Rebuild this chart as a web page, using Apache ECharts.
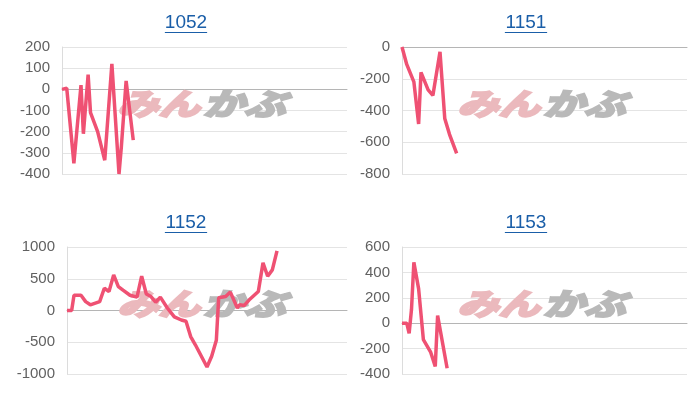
<!DOCTYPE html>
<html>
<head>
<meta charset="utf-8">
<script src="https://cdn.jsdelivr.net/npm/echarts@6/dist/echarts.min.js"></script>
<style>
  html, body { margin: 0; padding: 0; background: #fff; }
  #chart { width: 700px; height: 400px; }
</style>
</head>
<body>
<div id="chart"></div>
<script>
// data (x = day number, y = value)
const titles = ['1052', '1151', '1152', '1153']

const days1052 = [0, 2, 5, 8, 9, 11, 12, 15, 18, 21, 24, 25, 27, 30]
const vals1052 = [0, 5, -350, 20, -210, 70, -110, -200, -335, 120, -400, -270, 40, -240]

const days1151 = [0, 2, 5, 7, 8, 11, 13, 16, 18, 20, 23]
const vals1151 = [0, -110, -220, -485, -160, -270, -305, -30, -450, -550, -670]

const days1152 = [0, 2, 3, 6, 8, 10, 14, 16, 18, 20, 22, 24, 27, 30, 32, 34, 36, 38, 40, 43, 46, 49, 51, 53, 55, 60, 62, 64, 65, 68, 70, 73, 74, 76, 78, 82, 84, 86, 88, 90]
const vals1152 = [0, 0, 240, 240, 140, 90, 140, 350, 300, 560, 375, 320, 240, 210, 540, 260, 220, 130, 210, 40, -100, -150, -170, -410, -540, -890, -720, -470, 200, 220, 290, 40, 90, 80, 165, 300, 750, 540, 640, 940]

const days1153 = [0, 2, 3, 4, 5, 7, 9, 12, 14, 15, 19]
const vals1153 = [0, 0, -80, 110, 480, 270, -130, -225, -340, 60, -355]

// y axis ranges (tick labels)
const yMin = [-400, -800, -1000, -400]
const yMax = [200, 0, 1000, 600]
const yStep = [100, 200, 500, 200]

const allDays = [days1052, days1151, days1152, days1153]
const allVals = [vals1052, vals1151, vals1152, vals1153]

// layout of the 4 panels
const boxes = [
  { left: 62, top: 47, width: 285, height: 127 },
  { left: 402, top: 47, width: 285, height: 127 },
  { left: 67, top: 247, width: 280, height: 127 },
  { left: 402, top: 247, width: 285, height: 127 }
]
const titleX = [186, 526, 186, 526]
const titleY = [23, 23, 223, 223]
const markX = [201.5, 541.5, 201.5, 541.5]
const markY = [104, 104, 304, 304]

const lineColor = '#ef5173'
const labelFont = 'Liberation Sans, Arial, sans-serif'
const logoFont = 'italic bold 30px "Noto Sans CJK JP"'

const chart = echarts.init(document.getElementById('chart'), null, { renderer: 'canvas' })

const graphic = []
titles.forEach((t, i) => {
  const w = t.length * 0.556 * 19
  graphic.push({
    type: 'text',
    x: titleX[i],
    y: titleY[i],
    style: {
      text: t,
      fill: '#1a5ea8',
      font: '19px ' + labelFont,
      textAlign: 'center',
      textVerticalAlign: 'middle'
    }
  })
  graphic.push({
    type: 'line',
    shape: { x1: titleX[i] - w / 2, y1: titleY[i] + 9.5, x2: titleX[i] + w / 2, y2: titleY[i] + 9.5 },
    style: { stroke: '#1a5ea8', lineWidth: 1 }
  })
  // watermark logo (stroke makes it heavier)
  graphic.push({
    type: 'text',
    x: markX[i] - 1.5,
    y: markY[i],
    scaleX: 1.38,
    z: 1,
    style: {
      text: 'みん',
      fill: '#ebb9bd',
      stroke: '#ebb9bd',
      lineWidth: 2.5,
      font: logoFont,
      textAlign: 'right',
      textVerticalAlign: 'middle'
    }
  })
  graphic.push({
    type: 'text',
    x: markX[i] + 1.5,
    y: markY[i],
    scaleX: 1.38,
    z: 1,
    style: {
      text: 'かぶ',
      fill: '#b9b9b9',
      stroke: '#b9b9b9',
      lineWidth: 2.5,
      font: logoFont,
      textAlign: 'left',
      textVerticalAlign: 'middle'
    }
  })
})

const option = {
  animation: false,
  graphic: graphic,
  grid: boxes.map((b) => ({ ...b, containLabel: false })),
  xAxis: boxes.map((_, i) => ({
    type: 'value',
    gridIndex: i,
    min: 0,
    max: 120,
    axisLabel: { show: false },
    axisTick: { show: false },
    splitLine: { show: false },
    axisLine: { show: true, onZero: true, lineStyle: { color: '#b5b5b5' } }
  })),
  yAxis: boxes.map((_, i) => ({
    type: 'value',
    gridIndex: i,
    min: yMin[i],
    max: yMax[i],
    interval: yStep[i],
    axisLabel: {
      color: '#616161',
      fontSize: 15,
      fontFamily: labelFont,
      margin: 12,
      formatter: (v) => String(v)
    },
    axisTick: { show: false },
    axisLine: { show: true, lineStyle: { color: '#dcdcdc' } },
    splitLine: { lineStyle: { color: '#e4e4e4' } }
  })),
  series: allVals.map((vals, i) => ({
    type: 'line',
    xAxisIndex: i,
    yAxisIndex: i,
    data: vals.map((v, k) => [allDays[i][k], v]),
    showSymbol: false,
    z: 5,
    lineStyle: { color: lineColor, width: 3.5 },
    itemStyle: { color: lineColor }
  }))
}

chart.setOption(option)
</script>
</body>
</html>
